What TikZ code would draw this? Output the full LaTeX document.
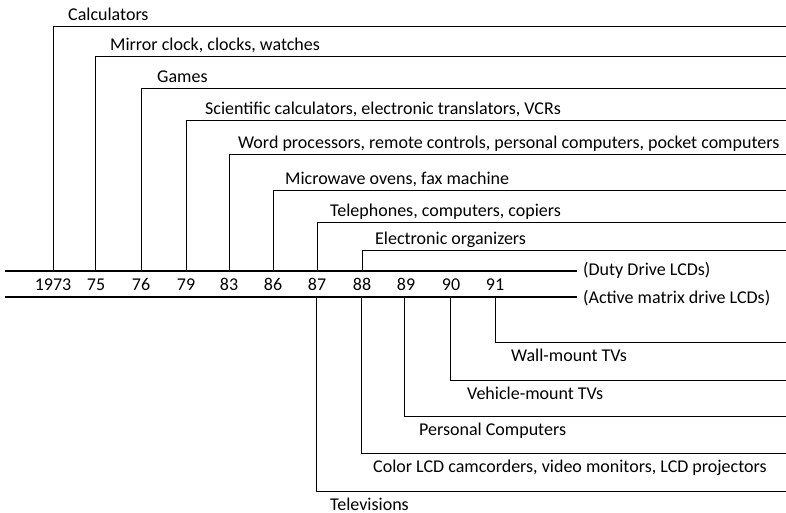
\documentclass[tikz,border=0pt]{standalone}
\usepackage{fontspec}
\setmainfont{Carlito}
\begin{document}
\begin{tikzpicture}[x=1pt,y=-1pt,
  font=\fontsize{18}{20}\selectfont,
  lbl/.style={anchor=base west, inner sep=0pt},
  yr/.style={anchor=base, inner sep=0pt},
  ln/.style={line width=0.9pt},
  band/.style={line width=1.3pt}]
\useasboundingbox (0,0) rectangle (786,513);
% band
\coordinate (bt0) at (5,271);
\coordinate (bt1) at (577,271);
\coordinate (bb0) at (5,297);
\coordinate (bb1) at (577,297);
\draw[band] (bt0) -- (bt1);
\draw[band] (bb0) -- (bb1);
\node[lbl] (duty) at (583,275) {(Duty Drive LCDs)};
\node[lbl] (active) at (583,303) {(Active matrix drive LCDs)};
% years
\foreach \x/\t/\n in {53/1973/y73,96/75/y75,141/76/y76,186/79/y79,229/83/y83,273/86/y86,317/87/y87,362/88/y88,406/89/y89,451/90/y90,495/91/y91}
  \node[yr] (\n) at (\x,290) {\t};
% upper brackets
\foreach \x/\y/\tx/\t/\n in {
  53/26/68/Calculators/u1,
  95/56/110/{Mirror clock, clocks, watches}/u2,
  141/88/157/Games/u3,
  186/120/205/{Scientific calculators, electronic translators, VCRs}/u4,
  229/154/238/{Word processors, remote controls, personal computers, pocket computers}/u5,
  273/190/285/{Microwave ovens, fax machine}/u6,
  317/222/330/{Telephones, computers, copiers}/u7,
  362/250/375/{Electronic organizers}/u8}
{
  \coordinate (\n s) at (\x,271);
  \coordinate (\n e) at (786,\y);
  \draw[ln] (\n s) |- (\n e);
  \node[lbl] (\n) at (\tx,\y-5.5) {\t};
}
% lower brackets
\foreach \x/\y/\tx/\t/\n in {
  495/342/511/{Wall-mount TVs}/l1,
  450/380/467/{Vehicle-mount TVs}/l2,
  404/416/419/{Personal Computers}/l3,
  361/453/373/{Color LCD camcorders, video monitors, LCD projectors}/l4,
  316/491/330/{Televisions}/l5}
{
  \coordinate (\n s) at (\x,297);
  \coordinate (\n e) at (786,\y);
  \draw[ln] (\n s) |- (\n e);
  \node[lbl] (\n) at (\tx,\y+19) {\t};
}
\end{tikzpicture}
\end{document}
